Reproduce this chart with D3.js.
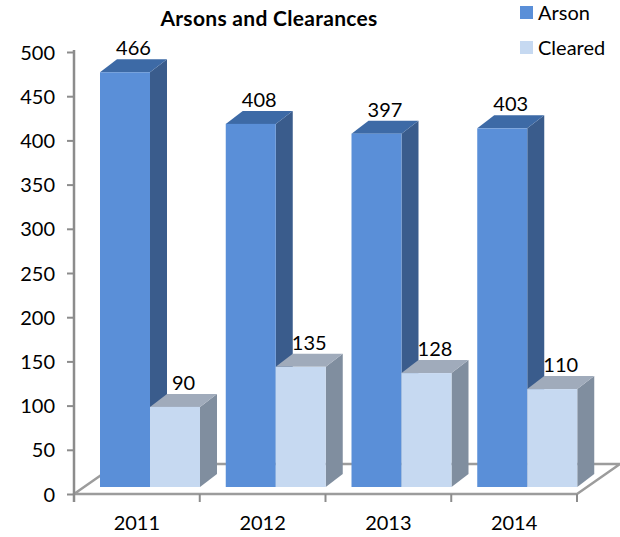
<!DOCTYPE html>
<html>
<head>
<meta charset="utf-8">
<script src="https://cdn.jsdelivr.net/npm/d3@7"></script>
<style>
  body { margin: 0; background: #fff; }
  text { font-family: Lato, "Liberation Sans", sans-serif; fill: #000; }
</style>
</head>
<body>
<div id="chart"></div>
<script>
// chart data
var years = ["2011", "2012", "2013", "2014"];
var series = ["Arson", "Cleared"];
var arson = [466, 408, 397, 403];
var cleared = [90, 135, 128, 110];
var yTicks = [0, 50, 100, 150, 200, 250, 300, 350, 400, 450, 500];

var width = 620, height = 537;

// colours per series: front, top, side
var colors = {
    Arson:   {front: "#5a8fd8", top: "#3d6aa6", side: "#3a5c8c"},
    Cleared: {front: "#c6d9f1", top: "#a0abbb", side: "#808e9f"}
};

var svg = d3.select("#chart")
    .append("svg")
    .attr("width", width)
    .attr("height", height);

// scales
var x = d3.scaleBand()
    .domain(years)
    .range([74, 577]);

var xs = d3.scaleBand()
    .domain(series)
    .range([16, 116]);

var y = d3.scaleLinear()
    .domain([0, 500])
    .range([494, 52]);

// bars are drawn on a plane slightly behind the axis
var yBar = d3.scaleLinear()
    .domain([0, 500])
    .range([487, 42]);

var front = {dx: 10}, depth = {dx: 17, dy: 13}, floorDepth = {dx: 43, dy: 30};

// floor
var fx0 = x.range()[0], fx1 = x.range()[1], fy = y(0);
svg.append("path")
    .attr("d", "M" + fx0 + "," + fy + "L" + fx1 + "," + fy +
        "L" + (fx1 + floorDepth.dx) + "," + (fy - floorDepth.dy) +
        "L" + (fx0 + floorDepth.dx) + "," + (fy - floorDepth.dy) + "Z")
    .attr("fill", "#fff")
    .attr("stroke", "#9c9c9c")
    .attr("stroke-width", 2.5)
    .attr("stroke-linejoin", "round");

// Y axis
var yAxis = svg.append("g")
    .attr("transform", "translate(" + fx0 + ",0)")
    .call(d3.axisLeft(y).tickValues(yTicks).tickSize(7).tickPadding(12));
yAxis.select(".domain").attr("stroke", "#8c8c8c").attr("stroke-width", 2.5)
    .attr("d", "M0," + (y(500) - 2) + "V" + (y(0) + 8));
yAxis.selectAll(".tick line").attr("stroke", "#8c8c8c").attr("stroke-width", 2);
yAxis.selectAll("text").style("font-size", "20px").attr("dy", "0.35em");

// X axis
var xAxis = svg.append("g")
    .attr("transform", "translate(0," + fy + ")")
    .call(d3.axisBottom(x).tickSize(0).tickPadding(22));
xAxis.select(".domain").remove();
xAxis.selectAll("text").style("font-size", "20px");
svg.selectAll(".xtick")
    .data(years.slice(1).concat(["end"]))
    .enter().append("line")
    .attr("x1", function (d, i) { return x.range()[0] + x.step() * (i + 1); })
    .attr("x2", function (d, i) { return x.range()[0] + x.step() * (i + 1); })
    .attr("y1", fy)
    .attr("y2", fy + 8)
    .attr("stroke", "#8c8c8c")
    .attr("stroke-width", 2);

// bars
var bars = [];
years.forEach(function (yr, i) {
    bars.push({year: yr, s: "Arson", v: arson[i]});
    bars.push({year: yr, s: "Cleared", v: cleared[i]});
});

var g = svg.selectAll(".bar3d")
    .data(bars)
    .enter().append("g")
    .attr("class", "bar3d");

function geom(d) {
    var x0 = x(d.year) + xs(d.s) + front.dx,
        x1 = x0 + xs.bandwidth(),
        y0 = yBar(0),
        y1 = yBar(d.v);
    return {x0: x0, x1: x1, y0: y0, y1: y1};
}

g.append("path")  // side
    .attr("d", function (d) {
        var b = geom(d);
        return "M" + b.x1 + "," + b.y0 + "L" + b.x1 + "," + b.y1 +
            "L" + (b.x1 + depth.dx) + "," + (b.y1 - depth.dy) +
            "L" + (b.x1 + depth.dx) + "," + (b.y0 - depth.dy) + "Z";
    })
    .attr("fill", function (d) { return colors[d.s].side; });

g.append("path")  // top
    .attr("d", function (d) {
        var b = geom(d);
        return "M" + b.x0 + "," + b.y1 + "L" + b.x1 + "," + b.y1 +
            "L" + (b.x1 + depth.dx) + "," + (b.y1 - depth.dy) +
            "L" + (b.x0 + depth.dx) + "," + (b.y1 - depth.dy) + "Z";
    })
    .attr("fill", function (d) { return colors[d.s].top; });

g.append("rect")  // front
    .attr("x", function (d) { return geom(d).x0; })
    .attr("y", function (d) { return geom(d).y1; })
    .attr("width", xs.bandwidth())
    .attr("height", function (d) { return geom(d).y0 - geom(d).y1; })
    .attr("fill", function (d) { return colors[d.s].front; });

// value labels
g.append("text")
    .attr("text-anchor", "middle")
    .attr("x", function (d) { var b = geom(d); return (b.x0 + b.x1) / 2 + depth.dx / 2; })
    .attr("y", function (d) { return geom(d).y1 - depth.dy - 4; })
    .style("font-size", "20px")
    .text(function (d) { return d.v; });

// title
svg.append("text")
    .attr("x", 269)
    .attr("y", 26)
    .attr("text-anchor", "middle")
    .style("font-size", "21px")
    .style("font-weight", "bold")
    .style("letter-spacing", "0.3px")
    .text("Arsons and Clearances");

// legend
var legend = svg.selectAll(".legend")
    .data(series)
    .enter().append("g")
    .attr("class", "legend")
    .attr("transform", function (d, i) { return "translate(520," + (6 + i * 35) + ")"; });

legend.append("rect")
    .attr("width", 13)
    .attr("height", 13)
    .attr("fill", function (d) { return colors[d].front; });

legend.append("text")
    .attr("x", 18)
    .attr("y", 6.5)
    .attr("dy", "0.36em")
    .style("font-size", "20px")
    .text(function (d) { return d; });
</script>
</body>
</html>
